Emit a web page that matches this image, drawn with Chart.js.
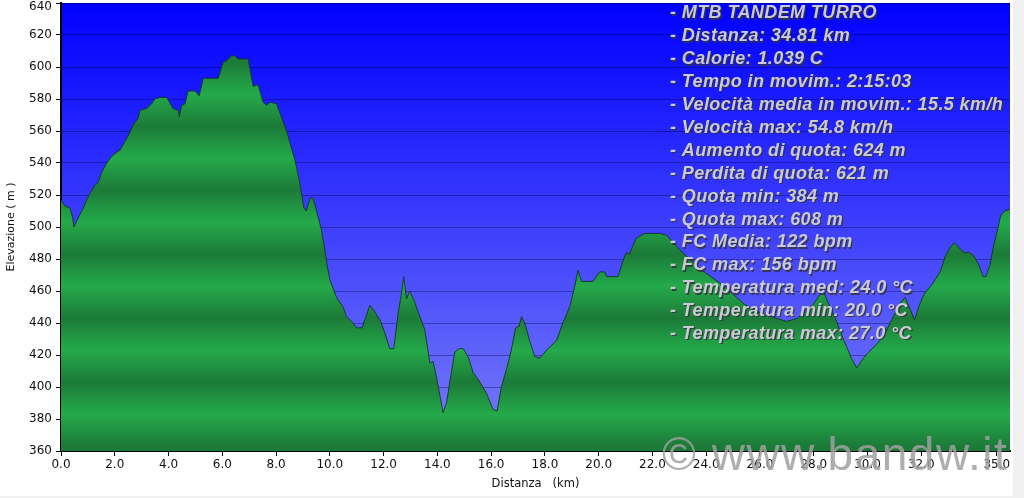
<!DOCTYPE html>
<html>
<head>
<meta charset="utf-8">
<title>Profilo altimetrico - MTB Tandem Turro</title>
<script src="https://cdn.jsdelivr.net/npm/chart.js@4.4.0/dist/chart.umd.min.js"></script>
<style>
html, body { margin: 0; padding: 0; background: #fff; }
#profilo { display: block; }
</style>
</head>
<body>
<canvas id="profilo" width="1024" height="498"></canvas>
<script>
// distanza (km) / quota (m)
const distanza = [
    0.00, 0.15, 0.33, 0.43, 0.48, 0.71, 0.83, 0.95, 1.08, 1.26, 1.39, 1.51, 1.70, 1.88, 2.01, 2.19,
    2.50, 2.69, 2.87, 2.94, 3.19, 3.37, 3.49, 3.68, 3.93, 4.17, 4.36, 4.40, 4.49, 4.61, 4.73, 4.98,
    5.14, 5.29, 5.85, 6.03, 6.16, 6.35, 6.47, 6.59, 6.96, 7.15, 7.33, 7.52, 7.65, 7.77, 8.02, 8.39,
    8.70, 8.88, 9.03, 9.13, 9.26, 9.38, 9.57, 9.69, 9.81, 9.90, 10.00, 10.25, 10.49, 10.62, 10.81, 10.99,
    11.20, 11.30, 11.49, 11.67, 11.86, 12.04, 12.23, 12.38, 12.54, 12.67, 12.75, 12.85, 12.97, 13.16, 13.28, 13.53,
    13.72, 13.84, 13.97, 14.21, 14.34, 14.52, 14.65, 14.83, 14.96, 15.14, 15.33, 15.51, 15.83, 16.07, 16.22, 16.38,
    16.57, 16.75, 16.91, 17.04, 17.13, 17.25, 17.43, 17.62, 17.81, 18.06, 18.43, 18.67, 18.92, 19.11, 19.23, 19.36,
    19.79, 20.04, 20.22, 20.29, 20.72, 20.91, 21.03, 21.15, 21.21, 21.40, 21.71, 22.27, 22.51, 22.80, 23.00, 23.50,
    24.00, 24.50, 25.00, 25.40, 25.80, 26.20, 26.60, 27.00, 27.40, 27.70, 28.00, 28.20, 28.35, 28.50, 28.80, 29.10,
    29.40, 29.60, 29.80, 30.00, 30.30, 30.60, 30.90, 31.20, 31.40, 31.60, 31.75, 31.90, 32.10, 32.40, 32.70, 32.90,
    33.10, 33.25, 33.40, 33.60, 33.80, 33.95, 34.15, 34.30, 34.40, 34.55, 34.70, 34.85, 34.95, 35.10, 35.30
];
const quota = [
    517, 513, 512, 506, 500, 508, 512, 517, 521, 526, 528, 534, 540, 544, 546, 548,
    557, 564, 568, 573, 574, 577, 580, 581, 581, 574, 573, 569, 576, 577, 585, 585,
    582, 593, 593, 603, 604, 607, 607, 605, 605, 588, 589, 578, 576, 578, 577, 560,
    542, 528, 512, 510, 518, 518, 506, 498, 486, 476, 467, 456, 450, 444, 441, 437,
    437, 442, 451, 447, 442, 434, 424, 424, 446, 459, 469, 455, 460, 453, 447, 436,
    415, 416, 406, 384, 390, 409, 422, 424, 424, 419, 409, 405, 396, 386, 385, 400,
    411, 423, 437, 438, 444, 440, 429, 419, 418, 423, 429, 440, 450, 463, 473, 466,
    466, 472, 472, 469, 469, 479, 484, 483, 486, 493, 496, 496, 495, 490, 486, 478,
    471, 465, 458, 452, 448, 445, 443, 441, 443, 447, 452, 457, 460, 454, 443, 430,
    418, 412, 417, 421, 426, 432, 442, 452, 456, 448, 442, 450, 458, 464, 472, 482,
    488, 490, 487, 484, 484, 482, 476, 469, 469, 476, 489, 499, 507, 510, 511
];

const xTicks = [0, 2, 4, 6, 8, 10, 12, 14, 16, 18, 20, 22, 24, 26, 28, 30, 32, 34.81];
const xTickLabels = ['0.0', '2.0', '4.0', '6.0', '8.0', '10.0', '12.0', '14.0', '16.0', '18.0',
    '20.0', '22.0', '24.0', '26.0', '28.0', '30.0', '32.0', '35.0'];
const xMax = 35.3;
const yMin = 360, yMax = 640, yStep = 20;

const riepilogo = [
    'MTB TANDEM TURRO',
    'Distanza: 34.81 km',
    'Calorie: 1.039 C',
    'Tempo in movim.: 2:15:03',
    'Velocità media in movim.: 15.5 km/h',
    'Velocità max: 54.8 km/h',
    'Aumento di quota: 624 m',
    'Perdita di quota: 621 m',
    'Quota min: 384 m',
    'Quota max: 608 m',
    'FC Media: 122 bpm',
    'FC max: 156 bpm',
    'Temperatura med: 24.0 °C',
    'Temperatura min: 20.0 °C',
    'Temperatura max: 27.0 °C'
];
const firma = '© www.bandw.it';

const verdeScuro = 'rgb(28,122,56)';
const verdeChiaro = 'rgb(36,170,74)';
const fontAssi = "'DejaVu Sans', Verdana, sans-serif";

const sfondo = {
    id: 'sfondo',
    beforeDraw: function (chart) {
        const ctx = chart.ctx, a = chart.chartArea;
        ctx.save();
        ctx.fillStyle = '#fff';
        ctx.fillRect(0, 0, chart.width, chart.height);
        ctx.fillStyle = '#f0f0f0';
        ctx.fillRect(a.right + 3, 0, chart.width - a.right - 3, chart.height);
        ctx.fillRect(0, chart.height - 2, chart.width, 2);
        let g = ctx.createLinearGradient(0, a.top, 0, a.bottom);
        g.addColorStop(0, 'rgb(0,0,255)');
        g.addColorStop(1, 'rgb(122,126,248)');
        ctx.fillStyle = g;
        ctx.fillRect(a.left, a.top, a.right - a.left, a.bottom - a.top);
        ctx.restore();
    }
};

const testi = {
    id: 'testi',
    afterDraw: function (chart) {
        const ctx = chart.ctx;
        const sy = chart.scales.y;
        ctx.save();
        // etichetta 640 spostata in basso per non uscire dal canvas
        ctx.font = '12px ' + fontAssi;
        ctx.fillStyle = '#111';
        ctx.textAlign = 'right';
        ctx.textBaseline = 'middle';
        ctx.fillText(String(yMax), sy.right - 9, Math.max(sy.getPixelForValue(yMax), 7));

        ctx.font = "italic bold 18px 'Liberation Sans', Arial, sans-serif";
        ctx.letterSpacing = '0.4px';
        ctx.textAlign = 'left';
        for (let i = 0; i < riepilogo.length; i++) {
            let y = 13.5 + i * 22.9;
            ctx.fillStyle = 'rgba(50,50,60,0.85)';
            ctx.fillText('- ' + riepilogo[i], 671.3, y + 1.3);
            ctx.fillStyle = '#cacad4';
            ctx.fillText('- ' + riepilogo[i], 670, y);
        }
        ctx.font = "46px 'Liberation Sans', Arial, sans-serif";
        ctx.letterSpacing = '1.5px';
        ctx.textBaseline = 'alphabetic';
        ctx.fillStyle = 'rgba(160,160,160,0.85)';
        ctx.fillText(firma, 662, 470);
        ctx.restore();
    }
};

// bande verdi allineate alla griglia
function riempimento(context) {
    const chart = context.chart, a = chart.chartArea;
    if (!a) return verdeChiaro;
    const y = chart.scales.y;
    let g = chart.ctx.createLinearGradient(0, a.top, 0, a.bottom);
    for (let v = yMin; v <= yMax; v += yStep) {
        let p = (y.getPixelForValue(v + 3) - a.top) / (a.bottom - a.top);
        if (p < 0 || p > 1) continue;
        g.addColorStop(p, ((v - yMin) / yStep) % 2 === 0 ? verdeScuro : verdeChiaro);
    }
    return g;
}

const punti = distanza.map((d, i) => ({x: d, y: quota[i]}));

new Chart(document.getElementById('profilo'), {
    type: 'line',
    data: {
        datasets: [{
            label: 'Elevazione',
            data: punti,
            fill: 'start',
            backgroundColor: riempimento,
            borderColor: 'rgba(15,50,25,0.85)',
            borderWidth: 1,
            pointRadius: 0,
            tension: 0
        }]
    },
    plugins: [sfondo, testi],
    options: {
        responsive: false,
        animation: false,
        devicePixelRatio: 1,
        layout: { padding: { left: 0, right: 14, top: 3, bottom: 0 } },
        plugins: {
            legend: { display: false },
            tooltip: { enabled: false }
        },
        scales: {
            x: {
                type: 'linear',
                min: 0,
                max: xMax,
                z: 1,
                grid: { drawOnChartArea: false, color: 'transparent', tickColor: '#000', tickLength: 5 },
                border: { color: '#000', width: 2 },
                afterBuildTicks: function (s) {
                    s.ticks = xTicks.map(v => ({value: v}));
                },
                ticks: {
                    autoSkip: false,
                    maxRotation: 0,
                    padding: 2,
                    color: '#111',
                    font: { family: fontAssi, size: 12 },
                    callback: function (v, i) { return xTickLabels[i]; }
                },
                title: {
                    display: true,
                    text: 'Distanza   (km)',
                    color: '#111',
                    font: { family: fontAssi, size: 11.5 },
                    padding: { top: 0, bottom: 7 }
                },
                afterFit: function (s) {
                    s.height = 47;
                    s.paddingLeft = 0;
                    s.paddingRight = 0;
                }
            },
            y: {
                min: yMin,
                max: yMax,
                z: 1,
                grid: { color: 'rgba(0,0,40,0.35)', tickColor: '#000', tickLength: 5 },
                border: { color: '#000', width: 2 },
                ticks: {
                    stepSize: yStep,
                    padding: 4,
                    color: '#111',
                    font: { family: fontAssi, size: 12 },
                    callback: function (v) { return v === yMax ? '' : v; }
                },
                title: {
                    display: true,
                    text: 'Elevazione ( m )',
                    color: '#111',
                    font: { family: fontAssi, size: 11 },
                    padding: { top: 5, bottom: 0 }
                },
                afterFit: function (s) {
                    s.width = 61;
                    s.paddingTop = 0;
                    s.paddingBottom = 0;
                }
            }
        }
    }
});
</script>
</body>
</html>
